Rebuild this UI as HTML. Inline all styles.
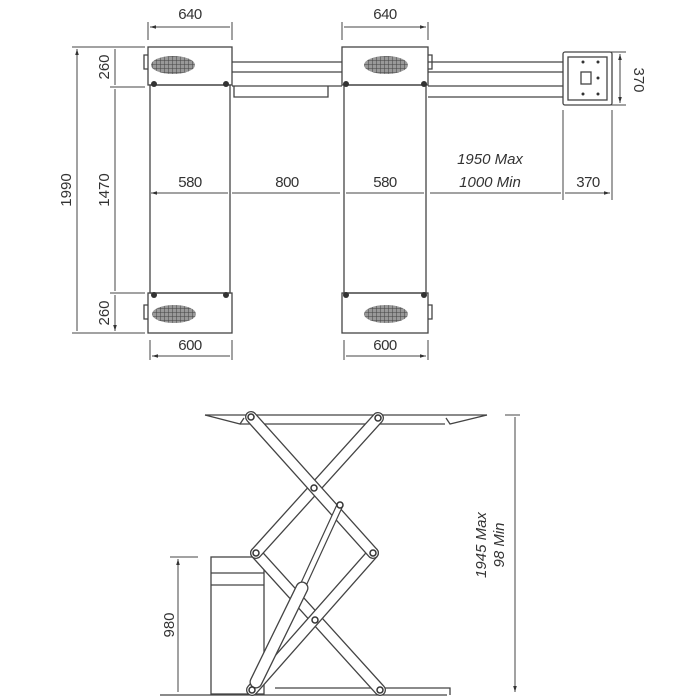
<!DOCTYPE html>
<html><head><meta charset="utf-8"><style>
html,body{margin:0;padding:0;background:#fff;}
svg{display:block;}
text{font-family:"Liberation Sans",sans-serif;font-size:15px;fill:#333;}
</style></head><body>
<svg width="700" height="700" viewBox="0 0 700 700" xmlns="http://www.w3.org/2000/svg">
<defs>
<marker id="a" viewBox="0 0 10 10" refX="10" refY="5" markerWidth="8" markerHeight="6" orient="auto-start-reverse"><path d="M0,2 L10,5 L0,8 z" fill="#333"/></marker>
<pattern id="h" width="4" height="4" patternUnits="userSpaceOnUse"><rect width="4" height="4" fill="#999"/><path d="M0,0H4M0,0V4" stroke="#444" stroke-width="1"/></pattern>
</defs>
<g fill="none" stroke="#444" stroke-width="1.3">
<path d="M232,62H342M232,72H342M232,86H342M234,86V97H328V86M428,62H563M428,72H563M428,86H563M428,97H563"/>
<rect x="148" y="47" width="84" height="38"/>
<rect x="150" y="85" width="80" height="208"/>
<rect x="148" y="293" width="84" height="40"/>
<rect x="342" y="47" width="86" height="38"/>
<rect x="344" y="85" width="82" height="208"/>
<rect x="342" y="293" width="86" height="40"/>
<rect x="563" y="52" width="49" height="53" rx="2"/>
<rect x="568" y="57" width="39" height="43"/>
<rect x="581" y="72" width="10" height="12"/>
<path d="M148,55h-4v14h4M428,55h4v14h-4M148,305h-4v14h4M428,305h4v14h-4"/>
</g>
<g fill="url(#h)" stroke="none">
<ellipse cx="173" cy="65" rx="22" ry="9"/><ellipse cx="386" cy="65" rx="22" ry="9"/>
<ellipse cx="174" cy="314" rx="22" ry="9"/><ellipse cx="386" cy="314" rx="22" ry="9"/>
</g>
<g fill="#333">
<circle cx="154" cy="84" r="3"/><circle cx="226" cy="84" r="3"/><circle cx="346" cy="84" r="3"/><circle cx="424" cy="84" r="3"/>
<circle cx="154" cy="295" r="3"/><circle cx="226" cy="295" r="3"/><circle cx="346" cy="295" r="3"/><circle cx="424" cy="295" r="3"/>
<circle cx="583" cy="62" r="1.5"/><circle cx="598" cy="62" r="1.5"/><circle cx="598" cy="78" r="1.5"/><circle cx="583" cy="94" r="1.5"/><circle cx="598" cy="94" r="1.5"/>
</g>
<g stroke="#444" stroke-width="1" fill="none">
<path d="M148,22V40M232,22V40M342,22V40M428,22V40"/>
<path d="M150,27H230M344,27H426" marker-start="url(#a)" marker-end="url(#a)"/>
<path d="M150,340V360M232,340V360M344,340V360M428,340V360"/>
<path d="M152,356H230M346,356H426" marker-start="url(#a)" marker-end="url(#a)"/>
<path d="M72,47H145M110,87H145M110,293H145M72,333H145"/>
<path d="M77,49V331M115,49V85M115,89V291M115,295V331" marker-start="url(#a)" marker-end="url(#a)"/>
<path d="M151,193H228M232,193H340M346,193H424M430,193H561M565,193H610" marker-start="url(#a)" marker-end="url(#a)"/>
<path d="M563,110V200M612,110V200M610,52H626M610,105H626"/>
<path d="M620,54V103" marker-start="url(#a)" marker-end="url(#a)"/>
</g>
<g textLength="0">
<text x="190" y="19" text-anchor="middle" letter-spacing="-0.5">640</text>
<text x="385" y="19" text-anchor="middle" letter-spacing="-0.5">640</text>
<text x="190" y="350" text-anchor="middle" letter-spacing="-0.5">600</text>
<text x="385" y="350" text-anchor="middle" letter-spacing="-0.5">600</text>
<text x="190" y="187" text-anchor="middle" letter-spacing="-0.5">580</text>
<text x="287" y="187" text-anchor="middle" letter-spacing="-0.5">800</text>
<text x="385" y="187" text-anchor="middle" letter-spacing="-0.5">580</text>
<text x="490" y="164" text-anchor="middle" font-style="italic">1950  Max</text>
<text x="490" y="187" text-anchor="middle" font-style="italic">1000  Min</text>
<text x="588" y="187" text-anchor="middle" letter-spacing="-0.5">370</text>
<text transform="translate(71,190) rotate(-90)" text-anchor="middle">1990</text>
<text transform="translate(109,67) rotate(-90)" text-anchor="middle">260</text>
<text transform="translate(109,190) rotate(-90)" text-anchor="middle">1470</text>
<text transform="translate(109,313) rotate(-90)" text-anchor="middle">260</text>
<text transform="translate(634,80) rotate(90)" text-anchor="middle">370</text>
</g>

<g fill="none" stroke="#444" stroke-width="1.3">
<path d="M205,415H487M240,424H445"/>
<path d="M205,415L240,424L244,418M487,415L450,424L446,418"/>
<path d="M160,695H447M275,688H450V695"/>
<rect x="211" y="557" width="53" height="137"/>
<path d="M211,573H264M211,585H264"/>
</g>
<g stroke-linecap="round">
<line x1="256" y1="553" x2="380" y2="690" stroke="#444" stroke-width="12"/>
<line x1="256" y1="553" x2="380" y2="690" stroke="#fff" stroke-width="9.4"/>
<line x1="373" y1="553" x2="252" y2="690" stroke="#444" stroke-width="12"/>
<line x1="373" y1="553" x2="252" y2="690" stroke="#fff" stroke-width="9.4"/>
<line x1="378" y1="418" x2="256" y2="553" stroke="#444" stroke-width="12"/>
<line x1="378" y1="418" x2="256" y2="553" stroke="#fff" stroke-width="9.4"/>
<line x1="251" y1="417" x2="373" y2="553" stroke="#444" stroke-width="12"/>
<line x1="251" y1="417" x2="373" y2="553" stroke="#fff" stroke-width="9.4"/>
<line x1="340" y1="505" x2="300" y2="592" stroke="#444" stroke-width="7"/>
<line x1="340" y1="505" x2="300" y2="592" stroke="#fff" stroke-width="4.6"/>
<line x1="302" y1="588" x2="256" y2="682" stroke="#444" stroke-width="13"/>
<line x1="302" y1="588" x2="256" y2="682" stroke="#fff" stroke-width="10.4"/>
</g>
<g fill="#fff" stroke="#333" stroke-width="1.5">
<circle cx="251" cy="417" r="3"/><circle cx="378" cy="418" r="3"/><circle cx="314" cy="488" r="3"/>
<circle cx="340" cy="505" r="3"/><circle cx="373" cy="553" r="3"/><circle cx="256" cy="553" r="3"/>
<circle cx="315" cy="620" r="3"/><circle cx="252" cy="690" r="3"/><circle cx="380" cy="690" r="3"/>
</g>
<g stroke="#444" stroke-width="1" fill="none">
<path d="M170,557H198M505,415H520"/>
<path d="M178,559V692M515,417V692" marker-start="url(#a)" marker-end="url(#a)"/>
</g>
<text transform="translate(174,625) rotate(-90)" text-anchor="middle">980</text>
<text transform="translate(486,545) rotate(-90)" text-anchor="middle" font-style="italic">1945  Max</text>
<text transform="translate(504,545) rotate(-90)" text-anchor="middle" font-style="italic">98  Min</text>
</svg>
</body></html>
